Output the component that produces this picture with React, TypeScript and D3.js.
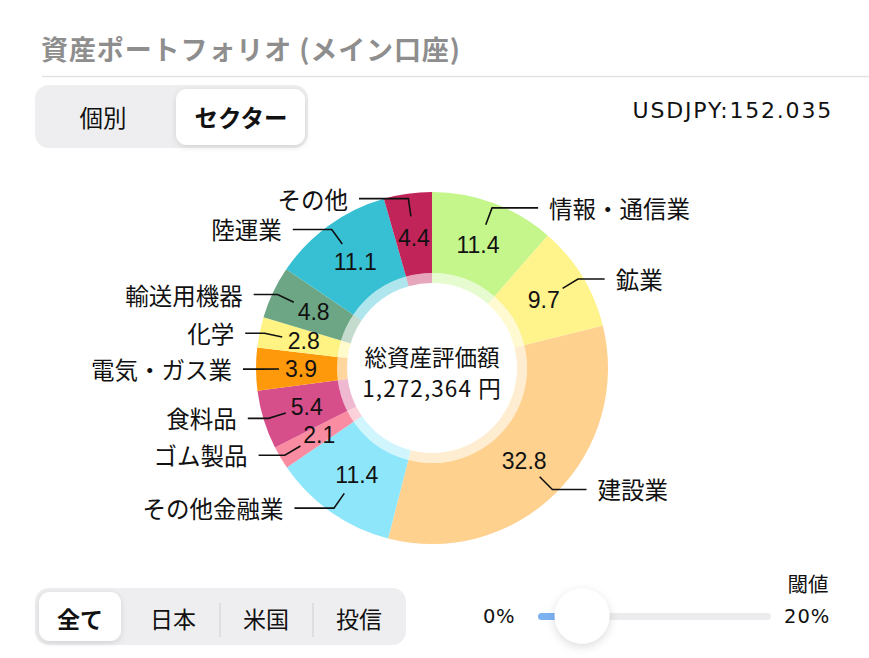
import React from "react";
import * as d3 from "d3";

const categories = ["情報・通信業", "鉱業", "建設業", "その他金融業", "ゴム製品", "食料品", "電気・ガス業", "化学", "輸送用機器", "陸運業", "その他"];
const values = [11.4, 9.7, 32.8, 11.4, 2.1, 5.4, 3.9, 2.8, 4.8, 11.1, 4.4];
const colors = ["#C4F68C", "#FFF38C", "#FFD18F", "#8DE6FA", "#F98CA1", "#D64F8B", "#FF990C", "#FFF483", "#6CA685", "#37C0D4", "#C02459"];
const titleText = "資産ポートフォリオ (メイン口座)";
const viewTabs = ["個別", "セクター"];
const regionTabs = ["全て", "日本", "米国", "投信"];
const fxText = "USDJPY:152.035";
const centerTitle = "総資産評価額";
const centerValue = "1,272,364 円";
const sliderMin = "0%";
const sliderMax = "20%";
const sliderLabel = "閾値";

const W = 869;
const H = 658;
const FONT = "'Noto Sans CJK JP', 'Noto Sans', sans-serif";
const LATIN = "'DejaVu Sans', 'Noto Sans', sans-serif";
const NUM = "'Liberation Sans', Arial, sans-serif";

export default function App() {
  const cx = 432;
  const cy = 368;
  const R = 176;
  const r0 = 95;
  const rBand = 85;

  const pie = d3.pie<number>().sort(null).value((d) => d).startAngle(0).endAngle(2 * Math.PI);
  const arcs = pie(values);
  const arcMain = d3.arc<d3.PieArcDatum<number>>().innerRadius(r0).outerRadius(R);
  const arcBand = d3.arc<d3.PieArcDatum<number>>().innerRadius(rBand).outerRadius(r0);

  const pt = (a: number, r: number) => [cx + r * Math.sin(a), cy - r * Math.cos(a)];

  return (
    <svg width={W} height={H} style={{ position: "absolute", left: 0, top: 0, background: "#fff" }} fontFamily={FONT}>
      <defs>
        <filter id="sh" x="-30%" y="-30%" width="160%" height="160%">
          <feDropShadow dx="0" dy="2" stdDeviation="3" floodColor="#000" floodOpacity="0.12" />
        </filter>
        <filter id="sh2" x="-50%" y="-50%" width="200%" height="200%">
          <feDropShadow dx="0" dy="3" stdDeviation="5" floodColor="#000" floodOpacity="0.14" />
        </filter>
      </defs>

      {/* Title */}
      <text x={41} y={48} fontSize={27} fontWeight={600} letterSpacing={0.9} fill="#8e8e8e" dominantBaseline="central">{titleText}</text>
      <line x1={42} x2={W} y1={76.5} y2={76.5} stroke="#e2e2e2" strokeWidth={1.5} />

      {/* View segmented control */}
      <rect x={35} y={85} width={273} height={63} rx={14} fill="#EEEEF0" />
      <rect x={176} y={89} width={129} height={56} rx={11} fill="#fff" filter="url(#sh)" />
      <text x={103} y={117} fontSize={23.5} textAnchor="middle" dominantBaseline="central" fill="#111">{viewTabs[0]}</text>
      <text x={241} y={117} fontSize={23.5} fontWeight={600} textAnchor="middle" dominantBaseline="central" fill="#111">{viewTabs[1]}</text>

      <text x={833} y={110} fontSize={22} fontFamily={LATIN} letterSpacing={1.8} textAnchor="end" dominantBaseline="central" fill="#111">{fxText}</text>

      {/* Donut */}
      <g transform={`translate(${cx},${cy})`}>
        {arcs.map((a, i) => (
          <path key={"m" + i} d={arcMain(a) || ""} fill={colors[i]} />
        ))}
        {arcs.map((a, i) => (
          <path key={"b" + i} d={arcBand(a) || ""} fill={colors[i]} opacity={0.4} />
        ))}
      </g>

      {arcs.map((a, i) => {
        const m = (a.startAngle + a.endAngle) / 2;
        const [vx, vy] = pt(m, 131);
        return (
          <text key={"v" + i} x={vx} y={vy} fontSize={23} fontFamily={NUM} textAnchor="middle" dominantBaseline="central" fill="#111">
            {values[i].toFixed(1)}
          </text>
        );
      })}

      {arcs.map((a, i) => {
        const m = (a.startAngle + a.endAngle) / 2;
        const [sx, sy] = pt(m, 153);
        const [ex, ey] = pt(m, 171);
        const sign = Math.sin(m) >= 0 ? 1 : -1;
        const c = Math.cos(m);
        const L = 18 + 32 * c * c;
        const hx = ex + sign * L;
        return (
          <g key={"l" + i}>
            <polyline points={`${sx},${sy} ${ex},${ey} ${hx},${ey}`} fill="none" stroke="#111" strokeWidth={1.6} />
            <text x={hx + sign * 11} y={ey} fontSize={23.5} textAnchor={sign > 0 ? "start" : "end"} dominantBaseline="central" fill="#111">
              {categories[i]}
            </text>
          </g>
        );
      })}

      <text x={cx} y={356} fontSize={22.5} textAnchor="middle" dominantBaseline="central" fill="#111">{centerTitle}</text>
      <text x={cx} y={387} fontSize={22.5} letterSpacing={1.1} textAnchor="middle" dominantBaseline="central" fill="#111">{centerValue}</text>

      {/* Region segmented control */}
      <rect x={35} y={588} width={371} height={57} rx={14} fill="#EEEEF0" />
      <rect x={39} y={592} width={82} height={49} rx={11} fill="#fff" filter="url(#sh)" />
      {[220, 313].map((x) => (
        <line key={x} x1={x} x2={x} y1={603} y2={637} stroke="#d4d4d6" strokeWidth={1.2} />
      ))}
      {regionTabs.map((t, i) => (
        <text key={t} x={[80, 173, 266, 359][i]} y={618} fontSize={23} fontWeight={i === 0 ? 600 : 400} textAnchor="middle" dominantBaseline="central" fill="#111">
          {t}
        </text>
      ))}

      {/* Slider */}
      <text x={808} y={583} fontSize={20.5} textAnchor="middle" dominantBaseline="central" fill="#111">{sliderLabel}</text>
      <text x={515} y={616} fontSize={19.5} fontFamily={LATIN} letterSpacing={0.5} textAnchor="end" dominantBaseline="central" fill="#111">{sliderMin}</text>
      <text x={784} y={616} fontSize={19.5} fontFamily={LATIN} letterSpacing={1} textAnchor="start" dominantBaseline="central" fill="#111">{sliderMax}</text>
      <rect x={538} y={613} width={233} height={7} rx={3.5} fill="#ECECEE" />
      <rect x={538} y={613} width={30} height={7} rx={3.5} fill="#7DB2F2" />
      <circle cx={582} cy={616} r={27.5} fill="#fff" filter="url(#sh2)" />
    </svg>
  );
}
